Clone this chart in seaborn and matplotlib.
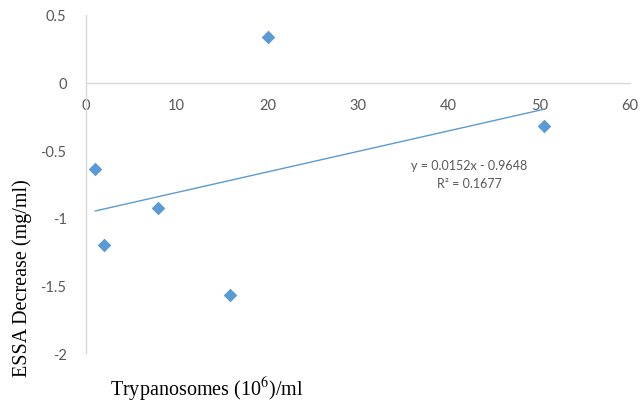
import matplotlib
matplotlib.use("Agg")
import matplotlib.pyplot as plt
import seaborn as sns
import numpy as np
import pandas as pd

# Parasite density vs. ESSA decrease
trypanosomes = [1.0, 2.0, 7.9, 15.9, 20.1, 50.5]
essa_decrease = [-0.64, -1.20, -0.93, -1.57, 0.34, -0.32]

# Linear trendline as reported
slope = 0.0152
intercept = -0.9648
r_squared = 0.1677

x_ticks = [0, 10, 20, 30, 40, 50, 60]
y_ticks = [0.5, 0, -0.5, -1, -1.5, -2]

df = pd.DataFrame({"x": trypanosomes, "y": essa_decrease})

sns.set_theme(style="white")
plt.rcParams["font.family"] = ["Lato", "DejaVu Sans"]
plt.rcParams["mathtext.fontset"] = "stix"

fig = plt.figure(figsize=(6.4, 4.06), dpi=100)
ax = fig.add_axes([0.1344, 0.128, 0.850, 0.8326])

blue = "#5B9BD5"
sns.scatterplot(data=df, x="x", y="y", marker="D", s=48, color=blue,
                linewidth=0, ax=ax, zorder=3)

xs = np.array([min(trypanosomes), max(trypanosomes)])
sns.lineplot(x=xs, y=slope * xs + intercept, color=blue, linewidth=1.0,
             ax=ax, zorder=2)

ax.set_xlim(0, 60)
ax.set_ylim(-2, 0.5)
ax.set_xticks(x_ticks)
ax.set_yticks(y_ticks)
ax.set_xticklabels([f"{v:g}" for v in x_ticks])
ax.set_yticklabels([f"{v:g}" for v in y_ticks])

gray_line = "#d9d9d9"
for side in ["top", "right"]:
    ax.spines[side].set_visible(False)
ax.spines["left"].set_color(gray_line)
ax.spines["left"].set_linewidth(1.0)
ax.spines["bottom"].set_position(("data", 0))
ax.spines["bottom"].set_color(gray_line)
ax.spines["bottom"].set_linewidth(1.0)

ax.tick_params(axis="both", length=0, labelsize=10.5, labelcolor="#595959")
ax.tick_params(axis="x", pad=11)
ax.tick_params(axis="y", pad=14)

ax.set_xlabel("")
ax.set_ylabel("")

serif = ["Liberation Serif", "DejaVu Serif"]
fig.text(0.172, 0.04, r"Trypanosomes (10$^{6}$)/ml", family=serif,
         fontsize=14.5, color="black", ha="left", va="center")
fig.text(0.035, 0.315, "ESSA Decrease (mg/ml)", family=serif, fontsize=14.5,
         color="black", rotation=90, ha="center", va="center")

eq_sign = "-" if intercept < 0 else "+"
ax.text(42.3, -0.61, f"y = {slope:.4f}x {eq_sign} {abs(intercept):.4f}",
        fontsize=9, color="#595959", ha="center", va="center")
ax.text(42.3, -0.745, f"R² = {r_squared:.4f}", fontsize=9,
        color="#595959", ha="center", va="center")

fig.savefig("out.png", dpi=100)
